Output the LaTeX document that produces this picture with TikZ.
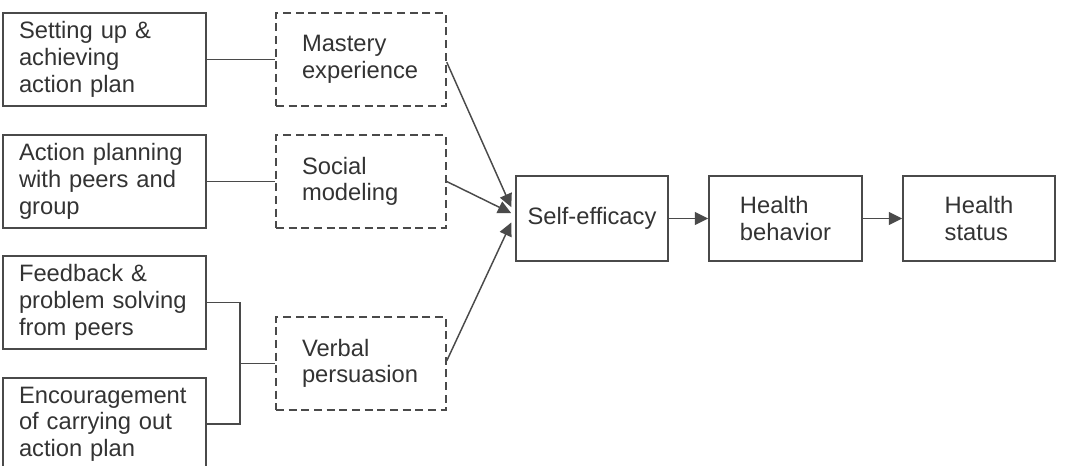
\documentclass[tikz,border=0pt]{standalone}
\usepackage{fontspec}
\setmainfont{Liberation Sans}
\usetikzlibrary{arrows.meta}
\hyphenpenalty=10000
\definecolor{boxline}{HTML}{4a4a4a}
\definecolor{boxtext}{HTML}{333333}
\tikzset{
  basebox/.style={draw=boxline, line width=1.1pt, text=boxtext, rectangle,
    font=\fontsize{17.8}{20}\selectfont},
  stepbox/.style={basebox, minimum width=152.25pt, minimum height=69.75pt,
    text width=128.25pt, inner xsep=12pt, align=left},
  sourcebox/.style={basebox, dash pattern=on 6pt off 3.5pt, minimum width=127.5pt,
    minimum height=69.75pt, text width=88.5pt, inner xsep=19.5pt, align=left},
  outbox/.style={basebox, minimum width=114pt, minimum height=63.75pt, align=left},
  link/.style={draw=boxline, line width=1.1pt},
  arr/.style={link, -{Triangle[length=10pt,width=9.5pt]}}
}

\begin{document}
\begin{tikzpicture}[x=0.75pt,y=-0.75pt]
			%%%%% START %%%%%
			\clip (0,0) rectangle (1068,466);
			
			% program activities
			\node[stepbox] (setting) at (104.5, 59.5) {Setting up \&\\achieving\\action plan};
			\node[stepbox] (planning) at (104.5, 181.5) {Action planning\\with peers and\\group};
			\node[stepbox] (feedback) at (104.5, 302.5) {Feedback \&\\problem solving\\from peers};
			\node[stepbox, minimum height=69pt] (encourage) at (104.5, 424) {Encouragement\\of carrying out\\action plan};
			
			% sources of efficacy
			\node[sourcebox] (mastery) at (361, 59.5) {Mastery\\experience};
			\node[sourcebox] (social) at (361, 181.5) {Social\\modeling};
			\node[sourcebox] (verbal) at (361, 363.5) {Verbal\\persuasion};
			
			% outcomes
			\node[outbox] (efficacy) at (592, 218.5) {Self-efficacy};
			\node[outbox, minimum width=114.75pt] (behavior) at (785.5, 218.5) {Health\\behavior};
			\node[outbox] (status) at (979, 218.5) {Health\\status};
			
			\coordinate (fork) at (240, 363.5);
			
			\draw[link] (setting.east) -- (mastery.west);
			\draw[link] (planning.east) -- (social.west);
			\draw[link] (feedback.east) -| (fork) |- (encourage.east);
			\draw[link] (fork) -- (verbal.west);
			
			\draw[arr] ([yshift=-2pt]mastery.east) -- ([xshift=-3pt,yshift=8.5pt]efficacy.west);
			\draw[arr] (social.east) -- ([xshift=-3pt,yshift=4pt]efficacy.west);
			\draw[arr] ([yshift=2pt]verbal.east) -- ([xshift=-3pt,yshift=-3pt]efficacy.west);
			
			\draw[arr] (efficacy.east) -- (behavior.west);
			\draw[arr] (behavior.east) -- (status.west);
			
			%%%%% END %%%%%
\end{tikzpicture}
\end{document}
